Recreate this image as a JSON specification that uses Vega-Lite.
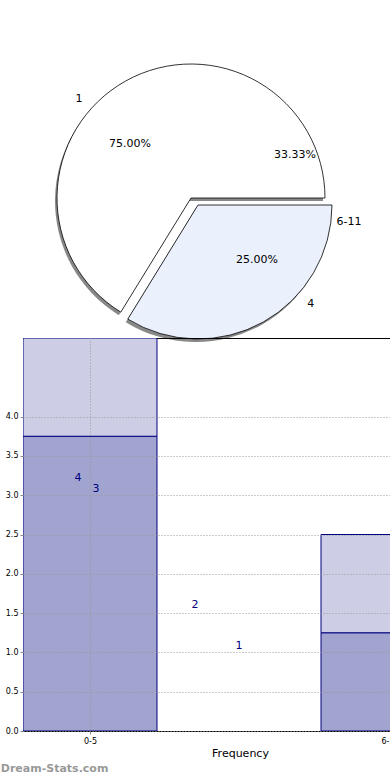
{
  "$schema": "https://vega.github.io/schema/vega-lite/v6.json",
  "padding": {"top": 62, "left": 0, "right": 0, "bottom": 0},
  "background": "white",
  "spacing": 7,
  "bounds": "flush",
  "config": {"view": {"stroke": null}, "font": "DejaVu Sans"},
  "title": {"text": "Dream-Stats.com", "orient": "bottom", "anchor": "start", "color": "#999999", "fontSize": 11, "fontWeight": "bold", "offset": 4, "dx": -4},
  "datasets": {
    "slices": [
      {"slice": "white", "t0": 211.6, "t1": 450},
      {"slice": "blue", "t0": 90, "t1": 211.6}
    ],
    "pielabels": [
      {"label": "1", "a": 311.5, "r": 1.107},
      {"label": "75.00%", "a": 311.5, "r": 0.604},
      {"label": "33.33%", "a": 67.5, "r": 0.833},
      {"label": "6-11", "a": 98.6, "r": 1.184},
      {"label": "25.00%", "a": 133.2, "r": 0.671},
      {"label": "4", "a": 131.5, "r": 1.185}
    ],
    "bars": [
      {"cat": "0-5", "part": "lower", "x0": -0.2233, "x1": 0.2233, "y0": 0, "y1": 3.75},
      {"cat": "0-5", "part": "upper", "x0": -0.2233, "x1": 0.2233, "y0": 3.75, "y1": 5.0},
      {"cat": "6-11", "part": "lower", "x0": 0.77, "x1": 1.2233, "y0": 0, "y1": 1.25},
      {"cat": "6-11", "part": "upper", "x0": 0.77, "x1": 1.2233, "y0": 1.25, "y1": 2.5}
    ],
    "barlabels": [
      {"label": "4", "x": -0.04, "y": 3.22},
      {"label": "3", "x": 0.02, "y": 3.08},
      {"label": "2", "x": 0.35, "y": 1.605},
      {"label": "1", "x": 0.497, "y": 1.08}
    ]
  },
  "vconcat": [
    {
      "width": 336,
      "height": 266,
      "layer": [
        {
          "data": {"name": "slices"},
          "transform": [{"filter": "datum.slice === 'white'"}],
          "mark": {"type": "arc", "radius": 134, "xOffset": -2, "yOffset": 3, "fill": "#555555", "opacity": 0.7},
          "encoding": {
            "theta": {"field": "t0", "type": "quantitative", "stack": null, "scale": {"domain": [0, 360], "range": [0, 6.283185307]}},
            "theta2": {"field": "t1"}
          }
        },
        {
          "data": {"name": "slices"},
          "transform": [{"filter": "datum.slice === 'white'"}],
          "mark": {"type": "arc", "radius": 134, "fill": "#ffffff", "stroke": "#000000", "strokeWidth": 0.8},
          "encoding": {
            "theta": {"field": "t0", "type": "quantitative", "stack": null},
            "theta2": {"field": "t1"}
          }
        },
        {
          "data": {"name": "slices"},
          "transform": [{"filter": "datum.slice === 'blue'"}],
          "mark": {"type": "arc", "radius": 134, "xOffset": 5, "yOffset": 10, "fill": "#555555", "opacity": 0.7},
          "encoding": {
            "theta": {"field": "t0", "type": "quantitative", "stack": null},
            "theta2": {"field": "t1"}
          }
        },
        {
          "data": {"name": "slices"},
          "transform": [{"filter": "datum.slice === 'blue'"}],
          "mark": {"type": "arc", "radius": 134, "xOffset": 7, "yOffset": 7, "fill": "#eaf0fc", "stroke": "#000000", "strokeWidth": 0.8},
          "encoding": {
            "theta": {"field": "t0", "type": "quantitative", "stack": null},
            "theta2": {"field": "t1"}
          }
        },
        {
          "data": {"name": "pielabels"},
          "mark": {"type": "text", "fontSize": 11, "color": "#000000", "align": "center", "baseline": "middle"},
          "encoding": {
            "theta": {"field": "a", "type": "quantitative", "stack": null},
            "radius": {"field": "r", "type": "quantitative", "scale": {"type": "linear", "domain": [0, 1], "range": [0, 135], "zero": true}},
            "text": {"field": "label"}
          }
        }
      ]
    },
    {
      "width": 434,
      "height": 393,
      "view": {"stroke": "#000000", "strokeWidth": 1},
      "layer": [
        {
          "data": {"name": "bars"},
          "mark": {"type": "rect", "stroke": "#000080", "strokeWidth": 1, "clip": true},
          "encoding": {
            "x": {"field": "x0", "type": "quantitative", "scale": {"domain": [-0.2233, 1.2233], "nice": false, "zero": false},
              "axis": {"values": [0, 1], "labelExpr": "datum.value == 0 ? '0-5' : '6-11'", "title": "Frequency", "titleFontSize": 11, "titleFontWeight": "normal", "titleColor": "#000", "titlePadding": 2, "labelFontSize": 8, "labelColor": "#000", "tickSize": 3, "tickColor": "#888", "domain": false, "grid": true, "gridDash": [1, 2], "gridColor": "#999", "gridOpacity": 1, "labelPadding": 3, "zindex": 1}},
            "x2": {"field": "x1"},
            "y": {"field": "y0", "type": "quantitative", "scale": {"domain": [0, 5], "nice": false},
              "axis": {"values": [0, 0.5, 1, 1.5, 2, 2.5, 3, 3.5, 4], "format": ".1f", "title": null, "labelFontSize": 8, "labelColor": "#000", "tickSize": 3, "tickColor": "#888", "domain": false, "grid": true, "gridDash": [1, 2], "gridColor": "#999", "gridOpacity": 1, "labelPadding": 2, "zindex": 1}},
            "y2": {"field": "y1"},
            "fill": {"field": "part", "type": "nominal", "scale": {"domain": ["lower", "upper"], "range": ["#a2a4d0", "#cdcee6"]}, "legend": null}
          }
        },
        {
          "data": {"name": "barlabels"},
          "mark": {"type": "text", "fontSize": 11, "color": "#000080", "align": "center", "baseline": "middle"},
          "encoding": {
            "x": {"field": "x", "type": "quantitative"},
            "y": {"field": "y", "type": "quantitative"},
            "text": {"field": "label"}
          }
        }
      ]
    }
  ]
}
